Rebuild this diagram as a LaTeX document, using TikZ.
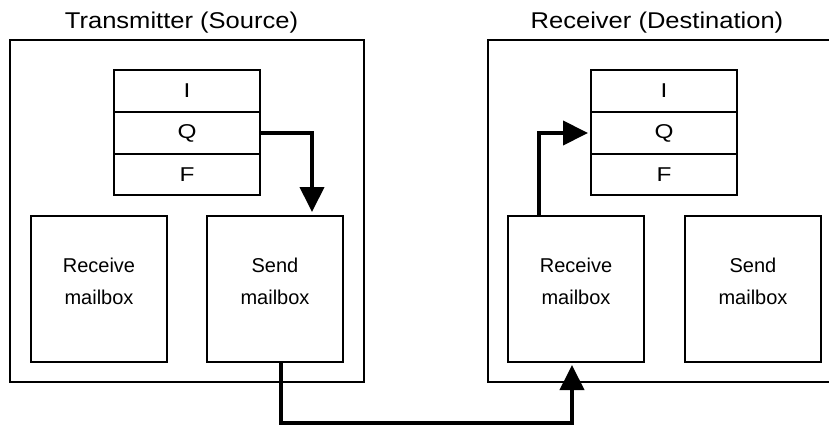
\documentclass[tikz,border=0pt]{standalone}
\usepackage{fontspec}
\setmainfont{Liberation Sans}
\usetikzlibrary{arrows.meta}
\newcommand{\wideletter}[1]{\scalebox{1.22}[1]{#1}}
\begin{document}
\begin{tikzpicture}[x=1pt,y=-1pt,
  box/.style={draw,line width=1.4pt,inner sep=0pt,outer sep=0pt},
  row/.style={box,minimum width=146pt,font=\fontsize{20}{24}\selectfont},
  mbox/.style={box,minimum width=136pt,minimum height=146pt},
  mtext/.style={align=center,inner sep=0pt,font=\fontsize{20}{32}\selectfont},
  ttl/.style={anchor=base,inner sep=0pt,font=\fontsize{22.8}{26}\selectfont},
  flow/.style={line width=4pt,-{Triangle[width=24pt,length=25pt]}}]
\useasboundingbox (0,0) rectangle (829,425);
% outer boxes
\node[box,minimum width=354pt,minimum height=342pt] (TX) at (187,211) {};
\node[box,minimum width=357pt,minimum height=342pt] (RX) at (666.5,211) {};
\node[ttl] (TXt) at (181.5,28.3) {\scalebox{1.12}[1]{Transmitter (Source)}};
\node[ttl] (RXt) at (657,28.3) {\scalebox{1.12}[1]{Receiver (Destination)}};
% left I/Q/F
\node[row,minimum height=42pt] (I1) at (187,91) {\wideletter{I}};
\node[row,minimum height=42pt] (Q1) at (187,133) {\wideletter{Q}};
\node[row,minimum height=41pt] (F1) at (187,174.5) {\wideletter{F}};
% right I/Q/F
\node[row,minimum height=42pt] (I2) at (664,91) {\wideletter{I}};
\node[row,minimum height=42pt] (Q2) at (664,133) {\wideletter{Q}};
\node[row,minimum height=41pt] (F2) at (664,174.5) {\wideletter{F}};
% mailboxes
\node[mbox] (R1) at (99,289) {};
\node[mbox] (S1) at (275,289) {};
\node[mbox] (R2) at (576,289) {};
\node[mbox] (S2) at (753,289) {};
\node[mtext] (R1t) at (99,281.5) {Receive\\mailbox};
\node[mtext] (S1t) at (275,281.5) {Send\\mailbox};
\node[mtext] (R2t) at (576,281.5) {Receive\\mailbox};
\node[mtext] (S2t) at (753,281.5) {Send\\mailbox};
% connectors
\coordinate (a1) at (312,133);
\coordinate (b1) at (281,423);
\coordinate (b2) at (572,423);
\coordinate (c1) at (539,133);
\draw[flow,shorten >=4pt] (Q1.east) -- (a1) -- (S1.north -| a1);
\draw[flow,shorten >=3pt] (S1.south -| b1) -- (b1) -- (b2) -- (R2.south -| b2);
\draw[flow,shorten >=3pt] (R2.north -| c1) -- (c1) -- (Q2.west);
\end{tikzpicture}
\end{document}
